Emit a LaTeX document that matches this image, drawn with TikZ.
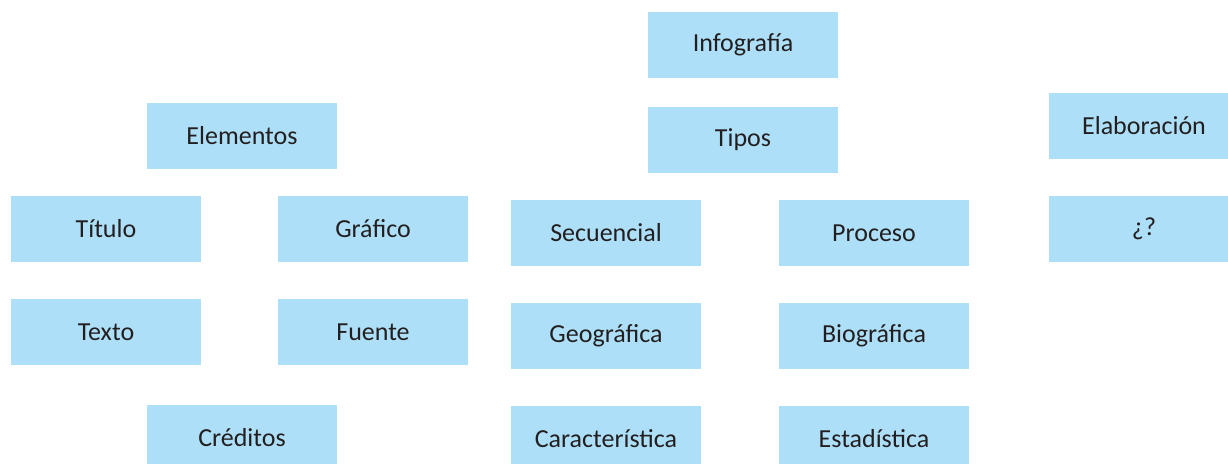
\documentclass[tikz,border=0pt]{standalone}
\usepackage{fontspec}
\setmainfont{Carlito}
\usetikzlibrary{positioning}
\definecolor{boxblue}{HTML}{ADE0F8}
\definecolor{ink}{HTML}{231F20}
\tikzset{
  itembox/.style={fill=boxblue, draw=none, minimum width=190pt, minimum height=66pt,
                  inner sep=0pt, align=center, text=ink, font=\fontsize{26}{31}\selectfont}}
\begin{document}
\begin{tikzpicture}[x=1pt, y=-1pt]
    \useasboundingbox (0,0) rectangle (1228,463);
    \clip (0,0) rectangle (1228,463);
    % centre column
    \node[itembox] (inf) at (743,45) {Infografía};
    \node[itembox] (tip) at (743,140) {Tipos};
    \node[itembox] (sec) at (606,233) {Secuencial};
    \node[itembox] (pro) at (874,233) {Proceso};
    \node[itembox] (geo) at (606,336) {Geográfica};
    \node[itembox] (bio) at (874,336) {Biográfica};
    \node[itembox] (car) at (606,439) {Característica};
    \node[itembox] (est) at (874,439) {Estadística};
    % left column
    \node[itembox] (ele) at (242,136) {Elementos};
    \node[itembox] (tit) at (106,229) {Título};
    \node[itembox] (gra) at (373,229) {Gráfico};
    \node[itembox] (tex) at (106,332) {Texto};
    \node[itembox] (fue) at (373,332) {Fuente};
    \node[itembox] (cre) at (242,438) {Créditos};
    % right column
    \node[itembox] (ela) at (1144,126) {Elaboración};
    \node[itembox] (que) at (1144,229) {¿?};
  \end{tikzpicture}
\end{document}
